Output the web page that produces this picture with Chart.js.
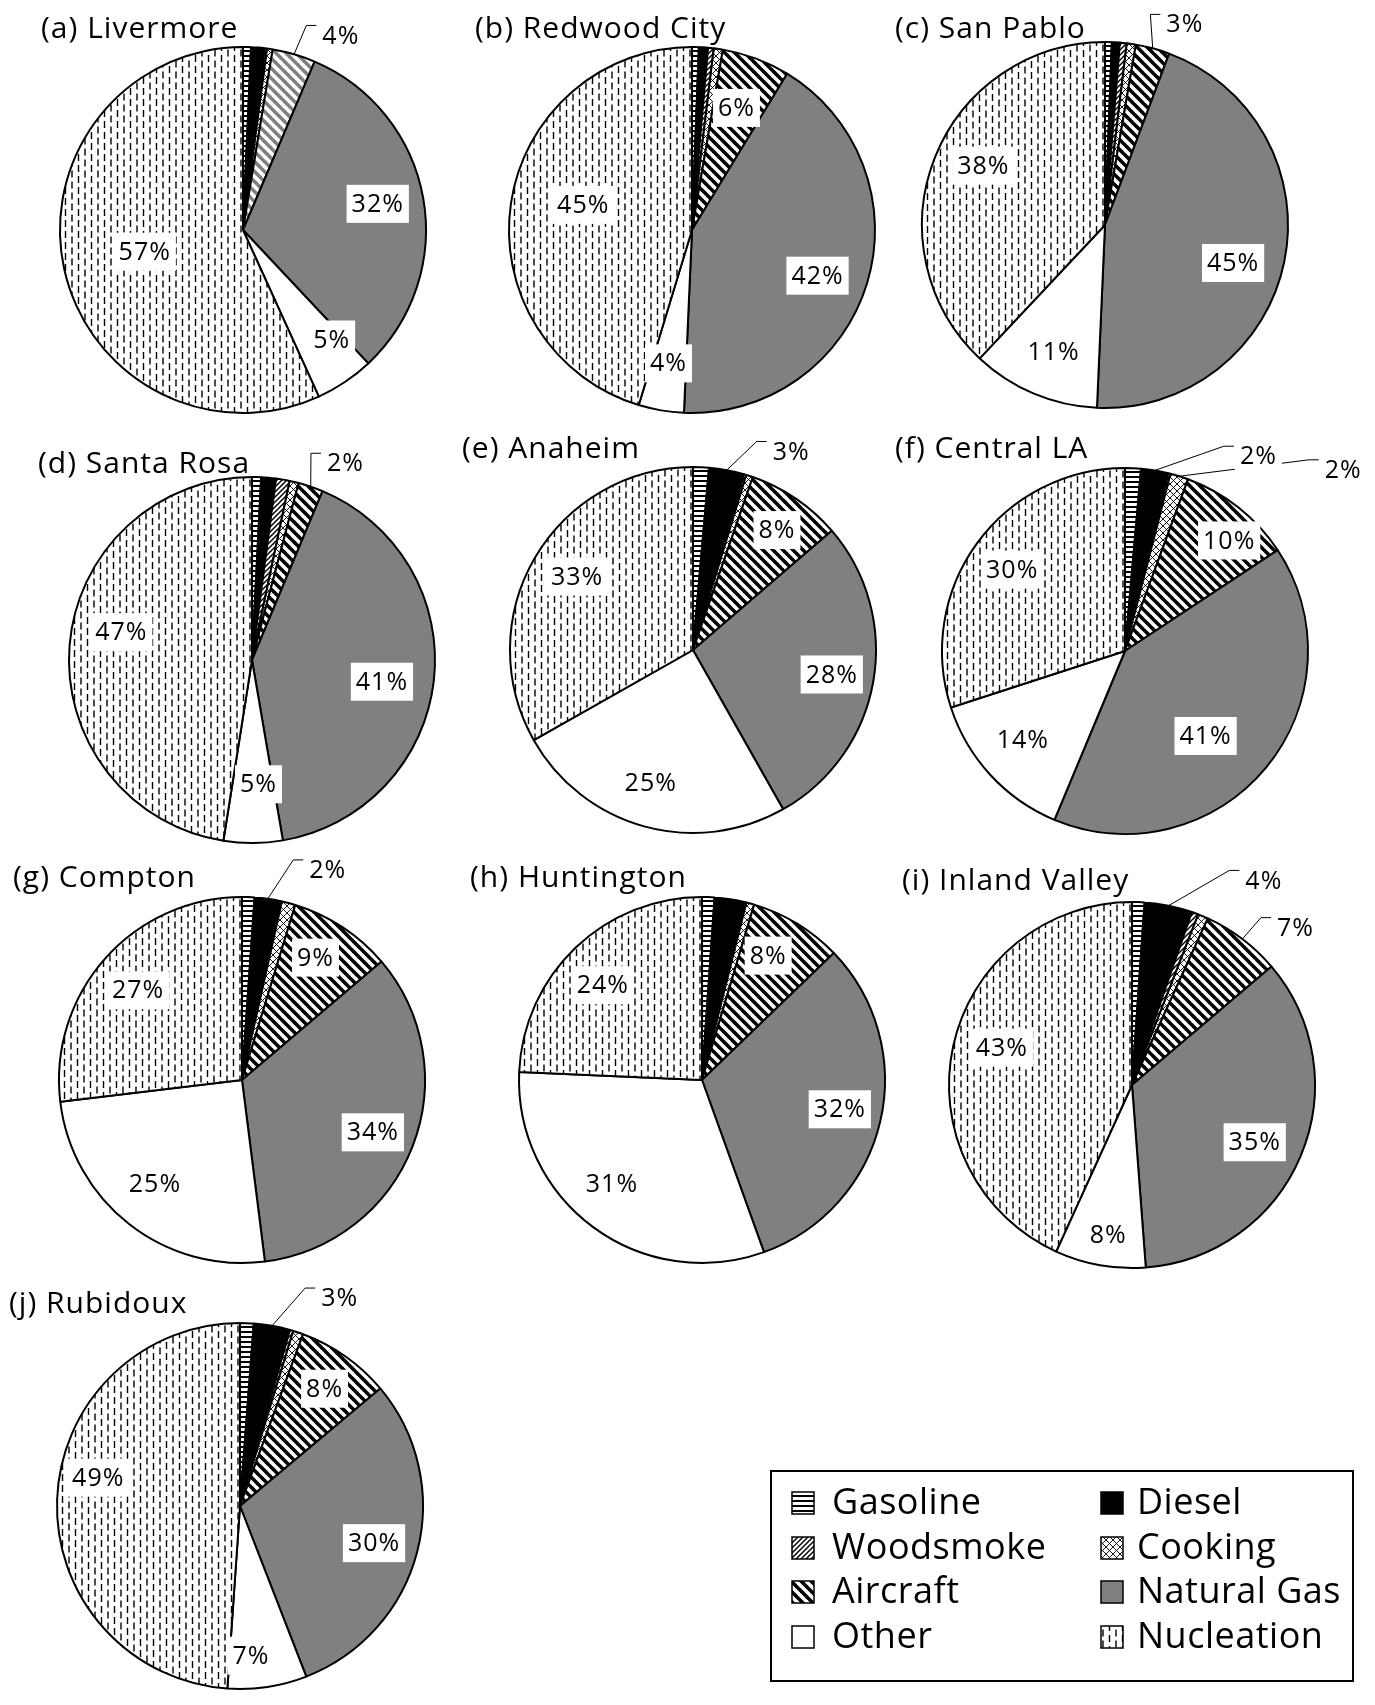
<!DOCTYPE html>
<html>
<head>
<meta charset="utf-8">
<script src="https://cdn.jsdelivr.net/npm/chart.js@4.4.1/dist/chart.umd.min.js"></script>
<style>
  html, body { margin: 0; padding: 0; background: #fff; overflow: hidden; }
  #page { position: relative; width: 1375px; height: 1705px; }
  canvas { position: absolute; }
</style>
</head>
<body>
<div id="page"></div>
<script>
// source categories, clockwise from 12 o'clock
const sources = ['Gasoline', 'Diesel', 'Woodsmoke', 'Cooking', 'Aircraft', 'Natural Gas', 'Other', 'Nucleation'];
const sites = ['(a) Livermore', '(b) Redwood City', '(c) San Pablo', '(d) Santa Rosa', '(e) Anaheim',
               '(f) Central LA', '(g) Compton', '(h) Huntington', '(i) Inland Valley', '(j) Rubidoux'];

// percent contribution of each source
const livermore    = [0.7, 1.2, 0.2, 0.5, 3.8, 31.6, 5.2, 56.8];
const redwoodCity  = [0.6, 0.8, 0.5, 0.8, 6.0, 42.0, 4.0, 45.3];
const sanPablo     = [0.6, 0.7, 0.6, 0.8, 3.0, 45.0, 11.3, 38.0];
const santaRosa    = [0.8, 1.3, 1.2, 0.8, 2.2, 41.0, 5.2, 47.5];
const anaheim      = [1.4, 3.1, 0.2, 0.6, 8.4, 28.1, 25.0, 33.2];
const centralLA    = [1.4, 2.4, 0.2, 1.6, 10.1, 40.6, 13.7, 30.0];
const compton      = [1.1, 2.3, 0.1, 1.2, 9.1, 34.2, 25.1, 26.9];
const huntington   = [1.1, 2.7, 0.1, 0.7, 8.2, 31.7, 31.2, 24.3];
const inlandValley = [1.1, 4.2, 0.6, 0.9, 7.0, 35.0, 8.0, 43.2];
const rubidoux     = [1.2, 3.2, 0.3, 0.9, 8.3, 30.2, 7.0, 48.9];

const siteValues = [livermore, redwoodCity, sanPablo, santaRosa, anaheim,
                    centralLA, compton, huntington, inlandValley, rubidoux];

// data labels shown on each pie: [slice index, text]
const siteLabels = [
  [[4, '4%'], [5, '32%'], [6, '5%'], [7, '57%']],
  [[4, '6%'], [5, '42%'], [6, '4%'], [7, '45%']],
  [[4, '3%'], [5, '45%'], [6, '11%'], [7, '38%']],
  [[4, '2%'], [5, '41%'], [6, '5%'], [7, '47%']],
  [[1, '3%'], [4, '8%'], [5, '28%'], [6, '25%'], [7, '33%']],
  [[1, '2%'], [3, '2%'], [4, '10%'], [5, '41%'], [6, '14%'], [7, '30%']],
  [[1, '2%'], [4, '9%'], [5, '34%'], [6, '25%'], [7, '27%']],
  [[4, '8%'], [5, '32%'], [6, '31%'], [7, '24%']],
  [[1, '4%'], [4, '7%'], [5, '35%'], [6, '8%'], [7, '43%']],
  [[1, '3%'], [4, '8%'], [5, '30%'], [6, '7%'], [7, '49%']]
];

// ---- layout (page pixels) ----
const R = 183;
const CW = 540, CH = 460;
const layout = [
  // pie centre, title position, label placement [radius fraction, angle deg, leader]
  { cx: 243,  cy: 230,  tx: 41,  ty: 38,  place: [[1.19, 26.7, 1], [0.75, 79, 0], [0.77, 141, 0], [0.55, 257.5, 0]] },
  { cx: 692,  cy: 230,  tx: 475, ty: 38,  place: [[0.71, 20, 0], [0.73, 110, 0], [0.74, 190, 0], [0.61, 283, 0]] },
  { cx: 1105, cy: 225,  tx: 895, ty: 38,  place: [[1.18, 21.7, 1], [0.73, 106.5, 0], [0.75, 202, 0], [0.74, 296, 0]] },
  { cx: 252,  cy: 660,  tx: 38,  ty: 473, place: [[1.19, 25.4, 1], [0.72, 99.5, 0], [0.68, 177, 0], [0.73, 282, 0]] },
  { cx: 693,  cy: 650,  tx: 462, ty: 458, place: [[1.21, 26.3, 1], [0.80, 35, 0], [0.77, 100, 0], [0.76, 197.7, 0], [0.75, 302.4, 0]] },
  { cx: 1125, cy: 651,  tx: 895, ty: 458, place: [[1.29, 34.4, 1], [1.55, 50.3, 1], [0.83, 43.3, 0], [0.64, 136.5, 0], [0.74, 229, 0], [0.76, 305.8, 0]] },
  { cx: 242,  cy: 1080, tx: 13,  ty: 887, place: [[1.24, 22.2, 1], [0.78, 31, 0], [0.77, 111.8, 0], [0.74, 220, 0], [0.75, 310.8, 0]] },
  { cx: 702,  cy: 1080, tx: 470, ty: 887, place: [[0.77, 28, 0], [0.77, 102, 0], [0.75, 221, 0], [0.75, 313.7, 0]] },
  { cx: 1132, cy: 1085, tx: 902, ty: 890, place: [[1.33, 32.8, 1], [1.24, 46.1, 1], [0.74, 115, 0], [0.83, 189, 0], [0.74, 286, 0]] },
  { cx: 240,  cy: 1506, tx: 9,   ty: 1313, place: [[1.26, 25.6, 1], [0.79, 35.8, 0], [0.76, 105.5, 0], [0.82, 175.8, 0], [0.79, 281.3, 0]] }
];

const FONT = '"Open Sans", "DejaVu Sans", sans-serif';

// ---- fill patterns ----
function tile(w, h, draw) {
  const c = document.createElement('canvas');
  c.width = w; c.height = h;
  const g = c.getContext('2d');
  g.fillStyle = '#fff';
  g.fillRect(0, 0, w, h);
  draw(g);
  return g.createPattern(c, 'repeat');
}
function seg(g, x1, y1, x2, y2) { g.beginPath(); g.moveTo(x1, y1); g.lineTo(x2, y2); g.stroke(); }

function makeFills(aircraftColor) {
  const gasoline = tile(6, 5, g => { g.fillStyle = '#000'; g.fillRect(0, 0, 6, 2); });
  const woodsmoke = tile(5, 5, g => {
    g.strokeStyle = '#000'; g.lineWidth = 1.5;
    seg(g, -1, 6, 6, -1); seg(g, -1, 1, 1, -1); seg(g, 4, 6, 6, 4);
  });
  const cooking = tile(7, 7, g => {
    g.strokeStyle = '#000'; g.lineWidth = 0.9;
    seg(g, -1, 8, 8, -1); seg(g, -1, -1, 8, 8);
  });
  const aircraft = tile(10, 10, g => {
    g.strokeStyle = aircraftColor; g.lineWidth = 3.6;
    seg(g, -1, -1, 11, 11); seg(g, -1, 9, 1, 11); seg(g, 9, -1, 11, 1);
  });
  const nucleation = tile(13, 11, g => {
    g.strokeStyle = '#000'; g.lineWidth = 1.4;
    seg(g, 1.5, 0, 1.5, 7);
    seg(g, 8, 5.5, 8, 11); seg(g, 8, 0, 8, 1.5);
  });
  return [gasoline, '#000', woodsmoke, cooking, aircraft, '#808080', '#fff', nucleation];
}

// titles, data labels and leader lines
const decor = {
  id: 'decor',
  afterDraw(chart) {
    const o = chart.options.plugins.decor;
    const ctx = chart.ctx;
    const arcs = chart.getDatasetMeta(0).data;
    ctx.save();
    ctx.fillStyle = '#000';
    ctx.textBaseline = 'alphabetic';
    ctx.textAlign = 'left';
    ctx.font = '30px ' + FONT;
    ctx.letterSpacing = '1px';
    ctx.fillText(o.title, o.tx, o.ty);

    ctx.font = '25px ' + FONT;
    ctx.letterSpacing = '1px';
    ctx.textBaseline = 'middle';
    ctx.textAlign = 'left';
    const items = o.labels.map((lab, k) => {
      const arc = arcs[lab[0]];
      const p = o.place[k];
      const ang = (p[1] - 90) * Math.PI / 180;
      const x = arc.x + Math.cos(ang) * R * p[0];
      const y = arc.y + Math.sin(ang) * R * p[0];
      const w = ctx.measureText(lab[1]).width;
      return { arc, text: lab[1], x, y, w, lead: p[2] };
    });
    // leaders
    ctx.strokeStyle = '#000';
    ctx.lineWidth = 1;
    items.filter(it => it.lead).forEach(it => {
      const m = (it.arc.startAngle + it.arc.endAngle) / 2;
      const sx = it.arc.x + Math.cos(m) * it.arc.outerRadius;
      const sy = it.arc.y + Math.sin(m) * it.arc.outerRadius;
      const left = it.x - it.w / 2;
      ctx.beginPath();
      ctx.moveTo(sx, sy);
      ctx.lineTo(left - 16, it.y - 10);
      ctx.lineTo(left - 6, it.y - 10);
      ctx.stroke();
    });
    // boxes + text
    items.forEach(it => {
      ctx.fillStyle = '#fff';
      ctx.fillRect(it.x - it.w / 2 - 5, it.y - 19, it.w + 10, 38);
      ctx.fillStyle = '#000';
      ctx.fillText(it.text, it.x - it.w / 2, it.y + 1);
    });
    ctx.restore();
  }
};

const page = document.getElementById('page');

siteValues.forEach((vals, i) => {
  const L = layout[i];
  const cv = document.createElement('canvas');
  cv.width = CW; cv.height = CH;
  cv.style.left = (L.cx - CW / 2) + 'px';
  cv.style.top = (L.cy - CH / 2) + 'px';
  page.appendChild(cv);
  const padX = (CW - 2 * R - 2) / 2, padY = (CH - 2 * R - 2) / 2;
  new Chart(cv, {
    type: 'pie',
    data: {
      labels: sources,
      datasets: [{
        data: vals,
        backgroundColor: makeFills(i === 0 ? '#808080' : '#000'),
        borderColor: '#000',
        borderWidth: 2
      }]
    },
    options: {
      responsive: false,
      animation: false,
      layout: { padding: { left: padX, right: padX, top: padY, bottom: padY } },
      plugins: {
        legend: { display: false },
        tooltip: { enabled: false },
        decor: {
          title: sites[i],
          tx: L.tx - (L.cx - CW / 2),
          ty: L.ty - (L.cy - CH / 2),
          labels: siteLabels[i],
          place: L.place
        }
      }
    },
    plugins: [decor]
  });
});

// ---- shared legend box ----
(function () {
  const box = { x: 770, y: 1470, w: 584, h: 212 };
  const cv = document.createElement('canvas');
  cv.width = box.w; cv.height = box.h;
  cv.style.left = box.x + 'px';
  cv.style.top = box.y + 'px';
  page.appendChild(cv);
  const ctx = cv.getContext('2d');
  ctx.strokeStyle = '#000';
  ctx.lineWidth = 2;
  ctx.strokeRect(1, 1, box.w - 2, box.h - 2);
  const fills = makeFills('#000');
  const cols = [[792, 832], [1101, 1137]];
  const rows = [1503, 1548, 1592, 1637];
  ctx.font = '36px ' + FONT;
  ctx.letterSpacing = '0.5px';
  ctx.textBaseline = 'middle';
  sources.forEach((s, k) => {
    const c = cols[k % 2], ry = rows[Math.floor(k / 2)] - box.y;
    const sx = c[0] - box.x, sz = 22;
    ctx.fillStyle = fills[k];
    ctx.fillRect(sx, ry - sz / 2, sz, sz);
    ctx.lineWidth = 1.5;
    ctx.strokeRect(sx, ry - sz / 2, sz, sz);
    ctx.fillStyle = '#000';
    ctx.fillText(s, c[1] - box.x, ry + 1);
  });
})();
</script>
</body>
</html>
